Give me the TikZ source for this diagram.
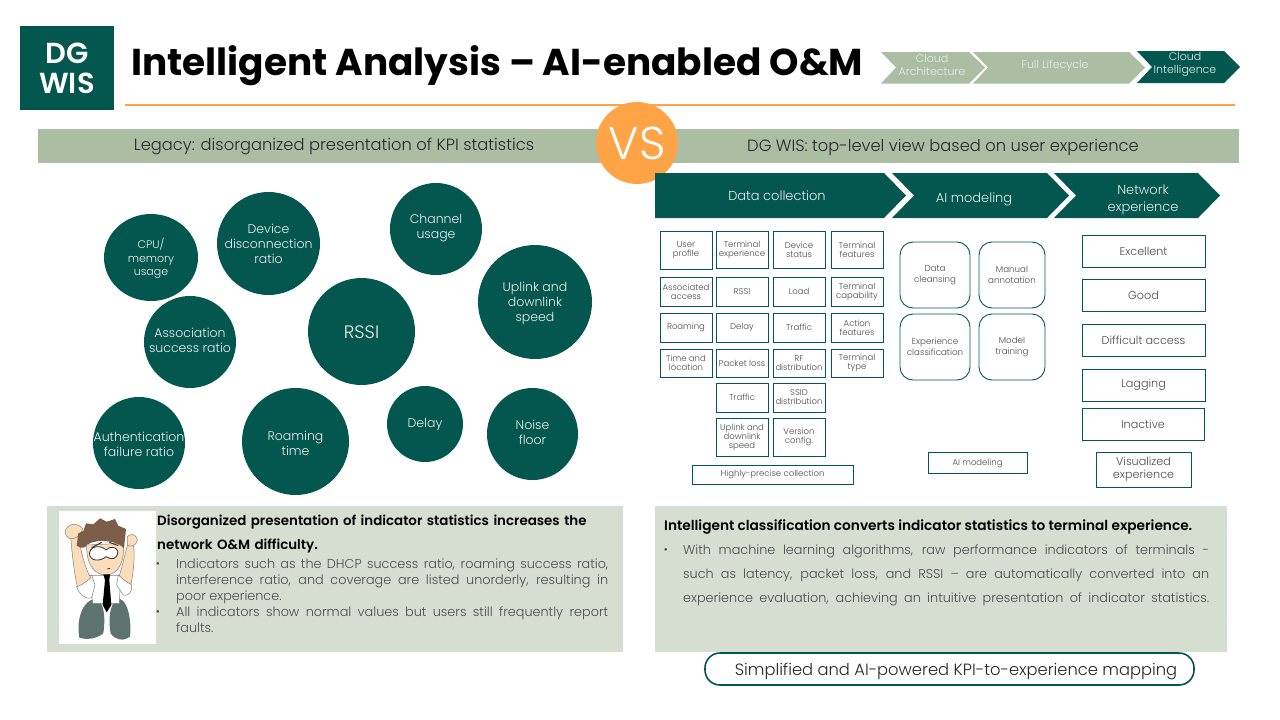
\documentclass[tikz,border=0pt]{standalone}
\usepackage{fontspec}
\setmainfont{Poppins}[UprightFont=* Light,BoldFont=* SemiBold]
\newfontfamily\titlefont{Poppins}[UprightFont=* Bold]
\usetikzlibrary{shapes.geometric}
\definecolor{dgreen}{HTML}{04574F}
\definecolor{sage}{HTML}{ABBDA3}
\definecolor{pale}{HTML}{D6DED2}
\definecolor{dorange}{HTML}{FFA347}
\definecolor{dgray}{HTML}{4A4A4A}
\definecolor{skin}{HTML}{FBDDBB}
\definecolor{hair}{HTML}{7B5D48}
\definecolor{trouser}{HTML}{5E7270}
\newcommand{\fs}[2]{\fontsize{#1}{#2}\selectfont}
\tikzset{
  bubble/.style={ellipse,fill=dgreen,inner sep=0pt},
  bubtext/.style={text=white!92!dgreen,inner sep=0pt,align=center,yshift=-1pt,font=\fs{12.5}{15}},
  kpibox/.style={draw=dgreen,line width=0.9pt,fill=white,inner sep=0pt,minimum width=52pt,align=center,text=dgray,font=\fs{8.5}{9}},
  aibox/.style={draw=dgreen,line width=0.9pt,rounded corners=13pt,inner sep=0pt,align=center,text=dgray,font=\fs{8.7}{11}},
  expbox/.style={draw=dgreen,line width=0.9pt,inner sep=0pt,align=center,text=dgray,font=\fs{11.2}{13}},
  chevtext/.style={text=white!90!dgreen,align=center,inner sep=0pt},
  bartext/.style={text=black!85,inner sep=0pt,font=\fs{16.3}{18}},
  bodytext/.style={text=dgray,inner sep=0pt,anchor=north west,align=justify,font=\fs{12.8}{16}},
  headtext/.style={text=black,inner sep=0pt,anchor=north west,align=left,font=\fs{13.4}{24}\bfseries},
  bulletdot/.style={text=dgray,inner sep=0pt,font=\fs{11}{13}},
}
\begin{document}
\begin{tikzpicture}[x=1pt,y=-1pt]
\useasboundingbox (0,0) rectangle (1280,720);
% title row
\fill[dgreen] (20,26) rectangle (114,110);
\node[text=white,inner sep=0pt,align=center,font=\fs{29}{30}\bfseries] (logo) at (67,68) {DG\\WIS};
\node[inner sep=0pt,anchor=west,font=\fs{37.4}{40}\titlefont] (title) at (131,66) {Intelligent Analysis – AI-enabled O\&M};
\draw[dorange,line width=1.5pt] (125,105)--(1235,105);
% small chevrons
\fill[sage] (881,52)--(969,52)--(985,67.5)--(969,83.5)--(881,83.5)--(896,67.5)--cycle;
\fill[sage] (973,52)--(1129,52)--(1145,67.5)--(1129,83.5)--(973,83.5)--(988,67.5)--cycle;
\fill[dgreen] (1137,51)--(1224,51)--(1240,67)--(1224,83)--(1137,83)--(1152,67)--cycle;
\node[chevtext,font=\fs{11}{13}] (cloudarch) at (932,65) {Cloud\\Architecture};
\node[chevtext,font=\fs{11}{13}] (lifecycle) at (1055,66) {Full Lifecycle};
\node[chevtext,font=\fs{11}{13}] (cloudintel) at (1185,64.5) {Cloud\\Intelligence};
% header bars
\fill[sage] (38,129) rectangle (1239,163);
\node[bartext] (legacy) at (334,147) {Legacy: disorganized presentation of KPI statistics};
\node[bartext] (dgwis) at (943,147) {DG WIS: top-level view based on user experience};
\node[circle,fill=dorange,text=white,minimum size=82pt,inner sep=0pt,font=\fs{46}{48}] (vs) at (637,143) {\raisebox{-2pt}{VS}};
% bubbles
\node[bubble,minimum width=94pt,minimum height=87pt,label={[bubtext,font=\fs{11}{13.3}]center:{CPU/\\memory\\usage}}] (cpu) at (151,257.5) {};
\node[bubble,minimum width=103pt,minimum height=103pt,label={[bubtext,yshift=1pt]center:{Device\\disconnection\\ratio}}] (disc) at (268.5,243.5) {};
\node[bubble,minimum width=92pt,minimum height=92pt,label={[bubtext,yshift=2pt]center:{Channel\\usage}}] (chan) at (436,229) {};
\node[bubble,minimum width=114pt,minimum height=114pt,label={[bubtext]center:{Uplink and\\downlink\\speed}}] (uplink) at (535,302) {};
\node[bubble,minimum width=107pt,minimum height=107pt,label={[bubtext,font=\fs{18}{20}]center:RSSI}] (rssi) at (361.5,331.5) {};
\node[bubble,minimum width=92pt,minimum height=92pt,label={[bubtext,yshift=3pt]center:{Association\\success ratio}}] (assoc) at (190,342) {};
\node[bubble,minimum width=92pt,minimum height=92pt,label={[bubtext]center:{Authentication\\failure ratio}}] (auth) at (139,443) {};
\node[bubble,minimum width=107pt,minimum height=107pt,label={[bubtext,yshift=-1pt]center:{Roaming\\time}}] (roam) at (295.5,441.5) {};
\node[bubble,minimum width=76pt,minimum height=76pt,label={[bubtext,yshift=0.5pt]center:Delay}] (delay) at (425,424) {};
\node[bubble,minimum width=91pt,minimum height=92pt,label={[bubtext,yshift=2.5pt]center:{Noise\\floor}}] (noise) at (532.5,434) {};
% big chevrons
\fill[dgreen] (655,173)--(884,173)--(906,195.5)--(884,218)--(655,218)--cycle;
\fill[dgreen] (892,173)--(1047,173)--(1069,195.5)--(1047,218)--(892,218)--(914,195.5)--cycle;
\fill[dgreen] (1054,173)--(1198,173)--(1220,195.5)--(1198,218)--(1054,218)--(1076,195.5)--cycle;
\node[chevtext,font=\fs{13}{16}] (collect) at (777,196) {Data collection};
\node[chevtext,font=\fs{13}{16}] (model) at (974,199.5) {AI modeling};
\node[chevtext,font=\fs{13}{16.5}] (netexp) at (1143,200) {Network\\experience};
% collected data
\node[kpibox,minimum height=38pt] (user) at (686,250) {User\\profile};
\node[kpibox,minimum height=37pt] (termexp) at (742,249.5) {Terminal\\experience};
\node[kpibox,minimum height=37pt] (status) at (799,249.5) {Device\\status};
\node[kpibox,minimum height=37pt] (features) at (857,249.5) {Terminal\\features};
\node[kpibox,minimum height=29pt] (access) at (686,291.5) {Associated\\access};
\node[kpibox,minimum height=29pt] (rssibox) at (742,291.5) {RSSI};
\node[kpibox,minimum height=29pt] (load) at (799,291.5) {Load};
\node[kpibox,minimum height=29pt] (capab) at (857,291.5) {Terminal\\capability};
\node[kpibox,minimum height=29pt] (roaming) at (686,327.5) {Roaming};
\node[kpibox,minimum height=29pt] (delaybox) at (742,327.5) {Delay};
\node[kpibox,minimum height=29pt] (traffic) at (799,327.5) {Traffic};
\node[kpibox,minimum height=29pt] (action) at (857,327.5) {Action\\features};
\node[kpibox,minimum height=28pt] (timeloc) at (686,363) {Time and\\location};
\node[kpibox,minimum height=28pt] (loss) at (742,363) {Packet loss};
\node[kpibox,minimum height=28pt] (rf) at (799,363) {RF\\distribution};
\node[kpibox,minimum height=28pt] (ttype) at (857,363) {Terminal\\type};
\node[kpibox,minimum height=29pt] (traffictwo) at (742,397.5) {Traffic};
\node[kpibox,minimum height=29pt] (ssid) at (799,397.5) {SSID\\distribution};
\node[kpibox,minimum height=38pt] (speed) at (742,437) {Uplink and\\downlink\\speed};
\node[kpibox,minimum height=38pt] (version) at (799,437) {Version\\config.};
\node[kpibox,minimum width=161pt,minimum height=19pt] (precise) at (772.5,474.5) {Highly-precise collection};
% modeling
\node[aibox,minimum width=70pt,minimum height=66pt] (cleanse) at (935,275) {Data\\cleansing};
\node[aibox,minimum width=66pt,minimum height=66pt] (annot) at (1012,275) {Manual\\annotation};
\node[aibox,minimum width=70pt,minimum height=66pt] (classif) at (935,347) {Experience\\classification};
\node[aibox,minimum width=66pt,minimum height=66pt] (train) at (1012,347) {Model\\training};
\node[kpibox,minimum width=99pt,minimum height=21pt] (aimodel) at (977.5,463) {AI modeling};
% experience
\node[expbox,minimum width=123pt,minimum height=32pt] (excel) at (1143.5,251) {Excellent};
\node[expbox,minimum width=123pt,minimum height=32pt] (good) at (1143.5,295) {Good};
\node[expbox,minimum width=123pt,minimum height=32pt] (diffic) at (1143.5,340) {Difficult access};
\node[expbox,minimum width=123pt,minimum height=32pt] (lag) at (1143.5,385) {Lagging};
\node[expbox,minimum width=122pt,minimum height=32pt] (inact) at (1143,424) {Inactive};
\node[expbox,minimum width=95pt,minimum height=35pt] (visual) at (1143.5,469.5) {Visualized\\experience};
% text panels
\fill[pale] (47,506) rectangle (623,652);
\fill[pale] (655,506) rectangle (1227,652);
\fill[white] (59,511) rectangle (156,644);
\begin{scope}[shift={(50,505)},x=0.3333pt,y=-0.3333pt,line width=0.5pt]
% legs
\fill[trouser] (88,398) .. controls (78,340) and (100,285) .. (135,282) .. controls (160,285) and (168,330) .. (160,385) .. controls (140,402) and (110,405) .. (88,398) -- cycle;
\fill[trouser] (182,385) .. controls (172,330) and (185,280) .. (210,282) .. controls (235,290) and (245,350) .. (240,395) .. controls (220,410) and (195,405) .. (182,385) -- cycle;
% shirt and sleeves
\draw[fill=white,draw=black!50] (118,212) -- (212,212) -- (208,295) -- (128,295) -- cycle;
\draw[fill=white,draw=black!50] (125,210) .. controls (105,225) and (95,235) .. (80,245) .. controls (85,265) and (105,285) .. (125,278) -- (135,240) -- cycle;
\draw[fill=white,draw=black!50] (205,210) .. controls (220,220) and (235,230) .. (245,240) .. controls (248,260) and (235,275) .. (220,270) -- (200,240) -- cycle;
% forearms and hands
\draw[fill=skin,draw=black!50] (82,245) .. controls (70,190) and (65,130) .. (62,95) -- (85,90) .. controls (90,130) and (105,190) .. (122,218) .. controls (110,230) and (95,240) .. (82,245) -- cycle;
\draw[fill=skin,draw=black!50] (243,238) .. controls (252,190) and (255,150) .. (250,120) -- (232,120) .. controls (225,150) and (215,190) .. (208,212) .. controls (220,225) and (232,232) .. (243,238) -- cycle;
\draw[fill=skin,draw=black!50] (45,80) .. controls (50,55) and (85,50) .. (98,72) .. controls (92,95) and (70,105) .. (58,100) .. controls (50,95) and (45,90) .. (45,80) -- cycle;
\draw[fill=skin,draw=black!50] (232,95) .. controls (240,85) and (258,85) .. (262,105) .. controls (260,122) and (240,128) .. (232,120) -- cycle;
% head
\draw[fill=skin,draw=black!50] (110,120) .. controls (108,185) and (140,212) .. (170,210) .. controls (205,208) and (225,170) .. (220,115) -- cycle;
\fill[hair] (80,122) -- (85,85) -- (100,78) -- (108,55) -- (130,58) -- (150,40) -- (170,50) -- (195,42) -- (205,62) -- (228,72) -- (222,130) .. controls (205,110) and (150,98) .. (112,118) .. controls (105,132) and (92,130) .. (80,122) -- cycle;
\draw[fill=white,draw=black!80,line width=0.8pt] (118,145) .. controls (125,115) and (160,125) .. (168,135) .. controls (180,122) and (200,125) .. (204,140) .. controls (200,165) and (185,165) .. (168,155) .. controls (150,170) and (120,170) .. (118,145) -- cycle;
\draw[black!80,line width=1pt] (125,128) -- (155,112) (178,112) -- (205,122);
\draw[black!80,line width=0.8pt] (172,192) -- (180,190);
% tie
\fill[black] (160,208) -- (180,208) -- (178,225) -- (184,300) -- (170,322) -- (158,300) -- (165,225) -- cycle;
\end{scope}
% left text
\node[headtext,text width=450pt] (lefthead) at (157,515) {Disorganized presentation of indicator statistics increases the\\network O\&M difficulty.};
\node[bulletdot] (bulone) at (158,565) {•};
\node[bodytext,text width=432pt] (leftone) at (176,558.5) {Indicators such as the DHCP success ratio, roaming success ratio,\linebreak interference ratio, and coverage are listed unorderly, resulting in\linebreak poor experience.};
\node[bulletdot] (bultwo) at (158,613) {•};
\node[bodytext,text width=432pt] (lefttwo) at (176,606.5) {All indicators show normal values but users still frequently report\linebreak faults.};
% right text
\node[headtext,font=\fs{13.7}{24}\bfseries] (righthead) at (664,520) {Intelligent classification converts indicator statistics to terminal experience.};
\node[bulletdot] (bulthree) at (666,551) {•};
\node[bodytext,text width=526pt,font=\fs{12.8}{24}] (rightone) at (683,544.5) {With machine learning algorithms, raw performance indicators of terminals -\linebreak such as latency, packet loss, and RSSI – are automatically converted into an\linebreak \makebox[526pt][s]{experience evaluation, achieving an intuitive presentation of indicator statistics.}};
% summary pill
\node[draw=dgreen,line width=1.6pt,rounded corners=15pt,fill=white,minimum width=489pt,minimum height=32pt,inner sep=0pt] (pill) at (949.5,669) {};
\node[inner sep=0pt,text=black!85,font=\fs{16.3}{18}] (pilltext) at (956,672) {Simplified and AI-powered KPI-to-experience mapping};
\end{tikzpicture}
\end{document}
